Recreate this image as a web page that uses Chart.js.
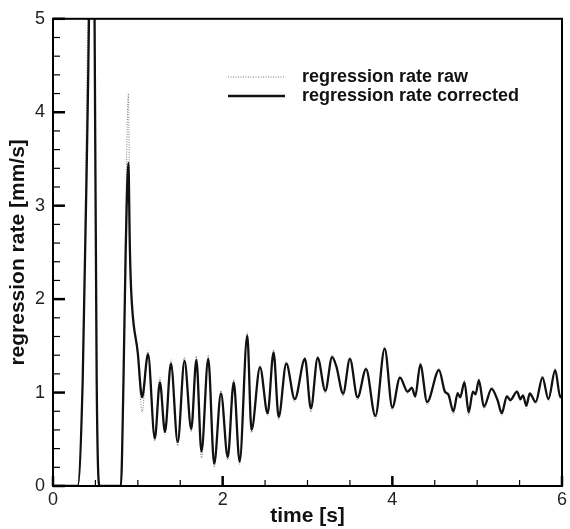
<!DOCTYPE html>
<html>
<head>
<meta charset="utf-8">
<script src="https://cdn.jsdelivr.net/npm/chart.js@4.4.1/dist/chart.umd.min.js"></script>
<style>
  html, body { margin: 0; padding: 0; background: #fff; }
  canvas { display: block; }
</style>
</head>
<body>
<canvas id="rateChart" width="570" height="529"></canvas>
<script>
// time [s]
var timeS = [0, 0.29, 0.35, 0.41, 0.47, 0.49, 0.515, 0.55, 0.80, 0.83,
  0.857, 0.889, 0.905, 0.92, 1.00, 1.05, 1.12, 1.20, 1.26, 1.32,
  1.39, 1.47, 1.55, 1.63, 1.69, 1.75, 1.83, 1.90, 1.98, 2.06,
  2.13, 2.20, 2.29, 2.34, 2.44, 2.53, 2.60, 2.66, 2.75, 2.85,
  2.97, 3.04, 3.12, 3.21, 3.29, 3.34, 3.42, 3.50, 3.59, 3.69,
  3.80, 3.91, 4.00, 4.09, 4.18, 4.23, 4.27, 4.33, 4.41, 4.55,
  4.62, 4.66, 4.72, 4.77, 4.80, 4.85, 4.90, 4.95, 4.98, 5.02,
  5.08, 5.17, 5.24, 5.29, 5.35, 5.39, 5.47, 5.51, 5.54, 5.58,
  5.62, 5.69, 5.77, 5.84, 5.92, 5.98, 6.00];

// regression rate corrected [mm/s]
var rateCorrected = [0, 0, 1.13, 4.1, 7.5, 5.0, 1.13, 0, 0, 1.09,
  2.52, 3.46, 2.6, 2.12, 1.42, 0.95, 1.41, 0.51, 1.11, 0.58,
  1.31, 0.47, 1.34, 0.61, 1.35, 0.37, 1.36, 0.24, 0.99, 0.31,
  1.11, 0.26, 1.61, 0.60, 1.27, 0.78, 1.43, 0.74, 1.31, 0.93,
  1.36, 0.83, 1.37, 1.02, 1.38, 1.28, 0.99, 1.36, 0.95, 1.25,
  0.75, 1.47, 0.84, 1.16, 1.01, 1.05, 0.96, 1.30, 0.90, 1.24,
  1.01, 0.98, 0.80, 0.99, 0.95, 1.11, 0.79, 1.01, 0.98, 1.13,
  0.85, 1.04, 0.92, 0.78, 0.96, 0.92, 1.01, 0.93, 0.97, 0.86,
  0.99, 0.90, 1.16, 0.93, 1.24, 0.95, 0.97];

// regression rate raw [mm/s]
var rateRaw = [0, 0, 1.13, 5.0, 8.0, 5.0, 1.13, 0, 0, 1.09,
  2.9, 4.2, 2.8, 2.15, 1.42, 0.79, 1.45, 0.48, 1.16, 0.55,
  1.35, 0.43, 1.38, 0.58, 1.39, 0.30, 1.40, 0.20, 1.02, 0.28,
  1.14, 0.23, 1.65, 0.57, 1.30, 0.75, 1.46, 0.71, 1.33, 0.90,
  1.38, 0.79, 1.39, 0.99, 1.40, 1.29, 0.96, 1.38, 0.92, 1.27,
  0.72, 1.49, 0.81, 1.18, 0.99, 1.06, 0.94, 1.32, 0.87, 1.26,
  1.00, 0.97, 0.76, 1.01, 0.94, 1.13, 0.75, 1.02, 0.97, 1.15,
  0.82, 1.06, 0.91, 0.75, 0.97, 0.90, 1.02, 0.91, 0.98, 0.83,
  1.00, 0.88, 1.18, 0.91, 1.26, 0.94, 0.97];

var xLabelStep = 2, xMinorStep = 0.5;
var yLabelStep = 1, yMinorStep = 0.2;

function toPoints(ys) {
  return timeS.map(function (t, i) { return { x: t, y: ys[i] }; });
}

function isMultiple(v, step) {
  var q = v / step;
  return Math.abs(q - Math.round(q)) < 1e-6;
}

// frame plus inward ticks (long at labelled values, short otherwise)
var frameTicks = {
  id: 'frameTicks',
  afterDraw: function (chart) {
    var ctx = chart.ctx, a = chart.chartArea;
    var xs = chart.scales.x, ys = chart.scales.y;
    ctx.save();
    ctx.strokeStyle = '#000';
    ctx.lineWidth = 2;
    ctx.strokeRect(a.left, a.top, a.right - a.left, a.bottom - a.top);
    xs.ticks.forEach(function (tk) {
      var px = xs.getPixelForValue(tk.value);
      var major = isMultiple(tk.value, xLabelStep);
      ctx.lineWidth = major ? 2.5 : 1.2;
      ctx.beginPath();
      ctx.moveTo(px, a.bottom);
      ctx.lineTo(px, a.bottom - (major ? 10 : 6));
      ctx.stroke();
    });
    ys.ticks.forEach(function (tk) {
      var py = ys.getPixelForValue(tk.value);
      var major = isMultiple(tk.value, yLabelStep);
      ctx.lineWidth = major ? 2.5 : 1.2;
      ctx.beginPath();
      ctx.moveTo(a.left, py);
      ctx.lineTo(a.left + (major ? 12 : 7), py);
      ctx.stroke();
    });
    ctx.restore();
  }
};

// legend inside the plot, upper right
var innerLegend = {
  id: 'innerLegend',
  afterDraw: function (chart) {
    var ctx = chart.ctx;
    var rows = [77, 96];
    ctx.save();
    ctx.font = 'bold 18px "Liberation Sans", Arial, sans-serif';
    ctx.textBaseline = 'middle';
    ctx.fillStyle = '#111';
    chart.data.datasets.forEach(function (ds, i) {
      var y = rows[i];
      ctx.strokeStyle = ds.borderColor;
      ctx.lineWidth = ds.borderWidth;
      ctx.setLineDash(ds.borderDash || []);
      ctx.beginPath();
      ctx.moveTo(228, y);
      ctx.lineTo(285, y);
      ctx.stroke();
      ctx.setLineDash([]);
      ctx.fillText(ds.label, 302, y);
    });
    ctx.restore();
  }
};

var tickFont = { family: '"Liberation Sans", Arial, sans-serif', size: 18 };
var titleFont = { family: '"Liberation Sans", Arial, sans-serif', size: 21, weight: 'bold' };

new Chart(document.getElementById('rateChart').getContext('2d'), {
  type: 'line',
  data: {
    datasets: [{
      label: 'regression rate raw',
      data: toPoints(rateRaw),
      borderColor: '#777',
      borderWidth: 1,
      borderDash: [1, 1.5],
      pointRadius: 0,
      cubicInterpolationMode: 'monotone',
      order: 2
    }, {
      label: 'regression rate corrected',
      data: toPoints(rateCorrected),
      borderColor: '#111',
      borderWidth: 2.3,
      pointRadius: 0,
      cubicInterpolationMode: 'monotone',
      order: 1
    }]
  },
  options: {
    responsive: false,
    animation: false,
    layout: { padding: { top: 17, right: 4, left: 0, bottom: 0 } },
    plugins: {
      legend: { display: false },
      tooltip: { enabled: false }
    },
    scales: {
      x: {
        type: 'linear',
        min: 0,
        max: 6,
        grid: { display: false, drawTicks: false },
        border: { display: false },
        ticks: {
          stepSize: xMinorStep,
          autoSkip: false,
          maxRotation: 0,
          padding: 3,
          color: '#222',
          font: tickFont,
          callback: function (v) { return isMultiple(v, xLabelStep) ? String(Math.round(v)) : ''; }
        },
        title: { display: true, text: 'time [s]', color: '#111', font: titleFont, padding: 0 },
        afterFit: function (s) { s.height = 43; }
      },
      y: {
        min: 0,
        max: 5,
        grid: { display: false, drawTicks: false },
        border: { display: false },
        ticks: {
          stepSize: yMinorStep,
          autoSkip: false,
          padding: 8,
          color: '#222',
          font: tickFont,
          callback: function (v) { return isMultiple(v, yLabelStep) ? String(Math.round(v)) : ''; }
        },
        title: { display: true, text: 'regression rate [mm/s]', color: '#111', font: titleFont, padding: { top: 6, bottom: 0 } },
        afterFit: function (s) { s.width = 53; }
      }
    }
  },
  plugins: [frameTicks, innerLegend]
});
</script>
</body>
</html>
